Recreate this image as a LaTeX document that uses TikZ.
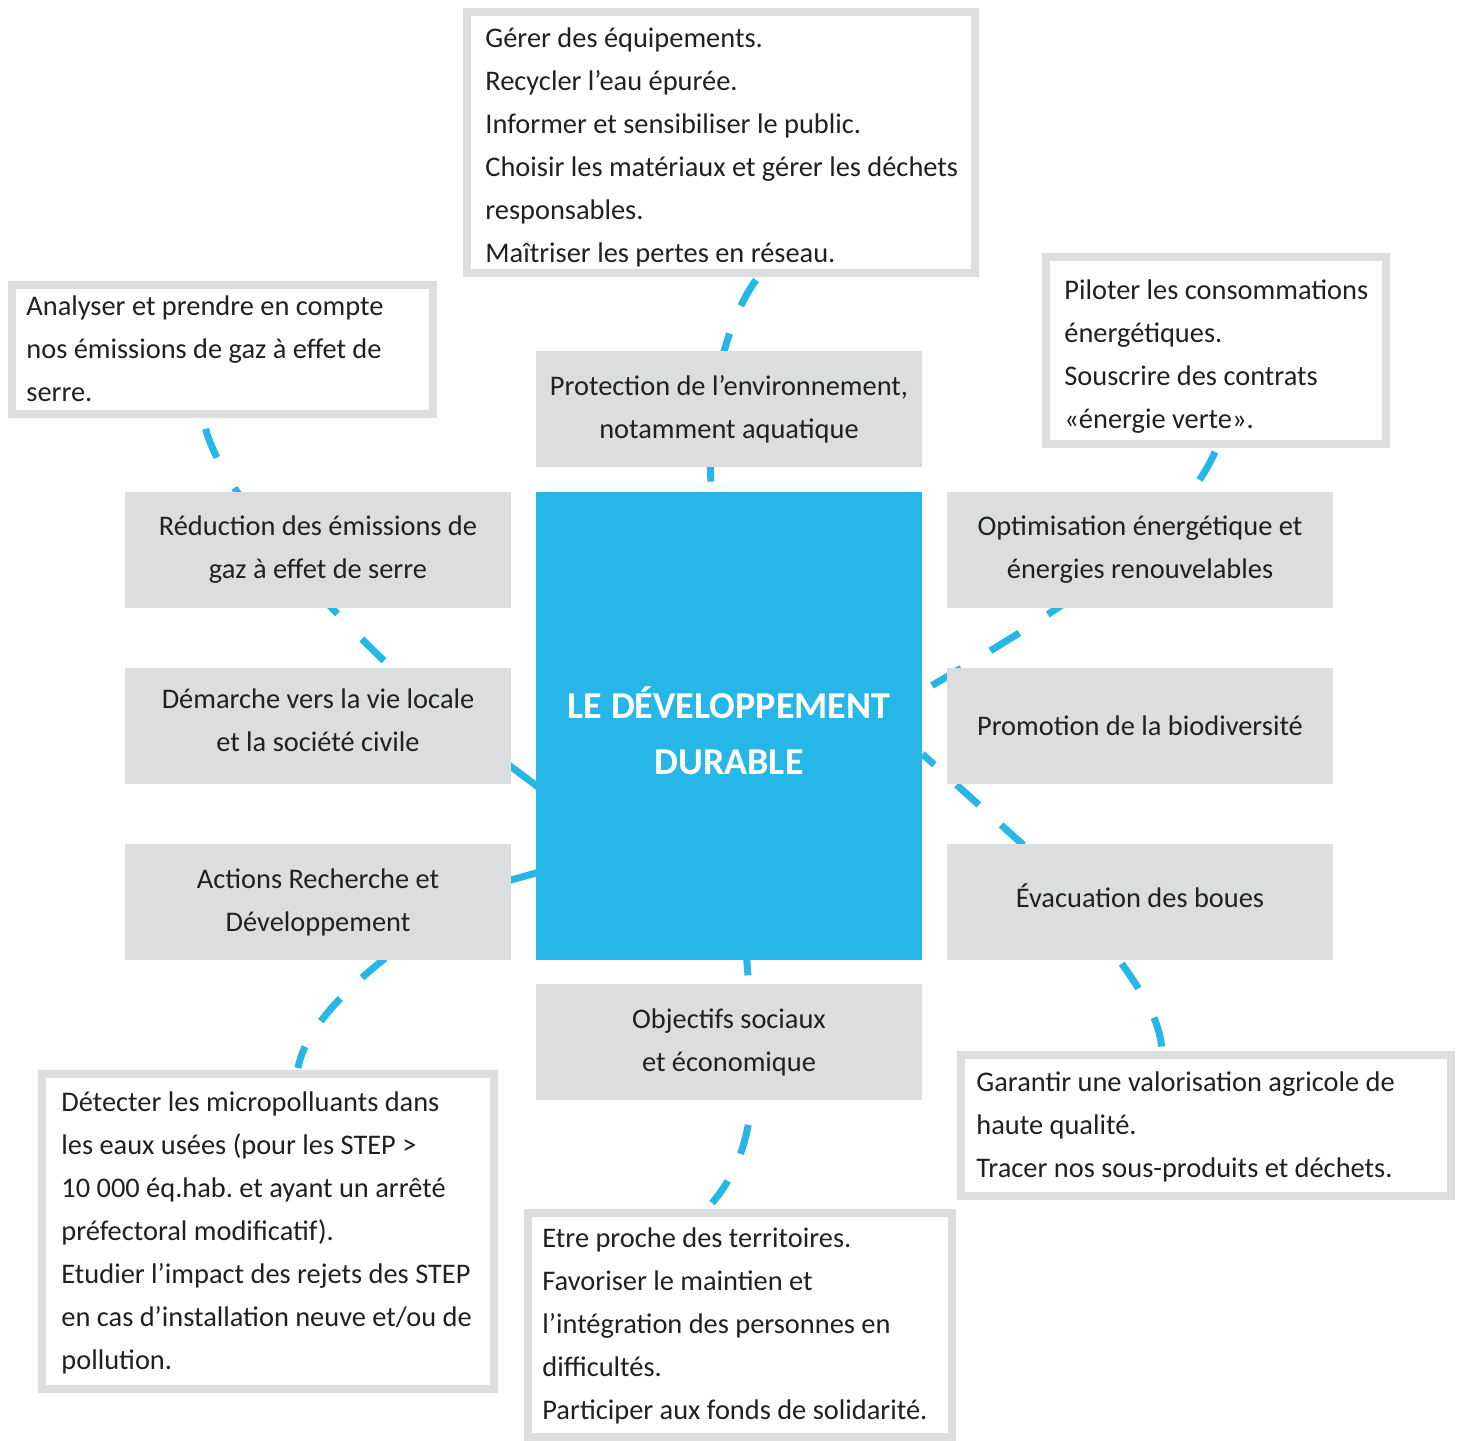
\documentclass[tikz,border=0pt]{standalone}
\usepackage{fontspec}
\setmainfont{Carlito}
\usetikzlibrary{fit,calc}
\definecolor{cy}{RGB}{39,182,232}
\definecolor{gr}{RGB}{220,221,223}
\definecolor{tx}{RGB}{35,31,32}
\newcommand\upby[2]{\raisebox{#1}[\height][\depth]{#2}}
\frenchspacing
\pgfdeclarelayer{bg}
\pgfsetlayers{bg,main}
\begin{document}
\begin{tikzpicture}[x=0.5pt,y=-0.5pt,
  gbox/.style={fill=gr, inner sep=0pt, minimum width=193pt, minimum height=58pt, align=center, text=tx, font=\fontsize{14.2}{21.5}\selectfont},
  wbox/.style={draw=gr, line width=4pt, fill=white, inner sep=0pt},
  wtext/.style={anchor=west, inner sep=0pt, align=left, text=tx, font=\fontsize{14.2}{21.5}\selectfont},
  conn/.style={draw=cy, line width=3.5pt, dash pattern=on 15pt off 15pt},
  connsolid/.style={draw=cy, line width=3.5pt},
]
\useasboundingbox (0,0) rectangle (1463,1441);

% central box
\node[fill=cy, inner sep=0pt, fit={(536,492) (922,960)}] (core) {};
\node[text=white, font=\bfseries\fontsize{19}{28}\selectfont, align=center, inner sep=0pt] (coreT) at (729,731) {LE DÉVELOPPEMENT\\DURABLE};

% grey theme boxes
\node[gbox] (prot) at (729,409) {Protection de l’environnement,\\notamment aquatique};
\node[gbox] (redu) at (318,550) {Réduction des émissions de\\gaz à effet de serre};
\node[gbox] (dema) at (318,726) {\upby{3pt}{Démarche vers la vie locale}\\\upby{3pt}{et la société civile}};
\node[gbox] (acti) at (318,902) {Actions Recherche et\\Développement};
\node[gbox] (opti) at (1140,550) {Optimisation énergétique et\\énergies renouvelables};
\node[gbox] (promo) at (1140,726) {Promotion de la biodiversité};
\node[gbox] (evac) at (1140,902) {\upby{3pt}{Évacuation des boues}};
\node[gbox] (obje) at (729,1042) {Objectifs sociaux\\et économique};

% white detail boxes
\node[wbox, fit={(467,12) (975,273)}] (topW) {};
\node[wtext] (topWt) at (485,147) {Gérer des équipements.\\Recycler l’eau épurée.\\Informer et sensibiliser le public.\\Choisir les matériaux et gérer les déchets\\responsables.\\Maîtriser les pertes en réseau.};

\node[wbox, fit={(12,285) (433,414)}] (tlW) {};
\node[wtext] (tlWt) at (26,349) {Analyser et prendre en compte\\nos émissions de gaz à effet de\\serre.};

\node[wbox, fit={(1046,257) (1386,444)}] (trW) {};
\node[wtext] (trWt) at (1064,357) {Piloter les consommations\\énergétiques.\\Souscrire des contrats\\«énergie verte».};

\node[wbox, fit={(42,1074) (494,1389)}] (blW) {};
\node[wtext] (blWt) at (61,1232.5) {Détecter les micropolluants dans\\les eaux usées (pour les STEP >\\10 000 éq.hab. et ayant un arrêté\\préfectoral modificatif).\\Etudier l’impact des rejets des STEP\\en cas d’installation neuve et/ou de\\pollution.};

\node[wbox, fit={(528,1213) (952,1437)}] (bmW) {};
\node[wtext] (bmWt) at (542,1326) {Etre proche des territoires.\\Favoriser le maintien et\\l’intégration des personnes en\\difficultés.\\Participer aux fonds de solidarité.};

\node[wbox, fit={(961,1055) (1451,1196)}] (brW) {};
\node[wtext] (brWt) at (976,1127) {Garantir une valorisation agricole de\\haute qualité.\\Tracer nos sous-produits et déchets.};

% connectors (behind everything)
\begin{pgfonlayer}{bg}
\draw[conn] ($(topW.south)+(35,3)$) .. controls (720,330) and (705,420) .. ($(core.north)+(-17,5)$);
\draw[conn, dash pattern=on 15.5pt off 17.5pt, dash phase=29.5pt] ($(tlW.south)+(-18.5,4)$) .. controls (215,480) and (300,580) .. ($(dema.north)+(70,-3)$);
\draw[conn, dash pattern=on 17pt off 17pt, dash phase=28.5pt] ($(core.east)+(0,-35)$) .. controls (1080,600) and (1180,530) .. ($(trW.south)+(-1,4)$);
\draw[conn, dash phase=7pt] ($(core.east)+(0,28)$) -- ($(evac.north)+(-116,2)$);
\draw[connsolid] ($(dema.east)+(-4,38)$) -- ($(core.west)+(4,62)$);
\draw[connsolid] ($(acti.east)+(-4,-21)$) -- ($(core.west)+(4,146)$);
\draw[conn] ($(acti.south)+(67,-2)$) .. controls (345,990) and (305,1030) .. ($(blW.north)+(30,-2)$);
\draw[conn, dash phase=2.5pt] ($(core.south)+(17,-10)$) .. controls (754,1055) and (766,1140) .. ($(bmW.north)+(-28,-6)$);
\draw[conn, dash pattern=on 15pt off 16.5pt, dash phase=26.5pt] ($(evac.south)+(-24,-5)$) .. controls (1135,983) and (1160,1015) .. ($(brW.north)+(-44,0)$);
\end{pgfonlayer}
\end{tikzpicture}
\end{document}
